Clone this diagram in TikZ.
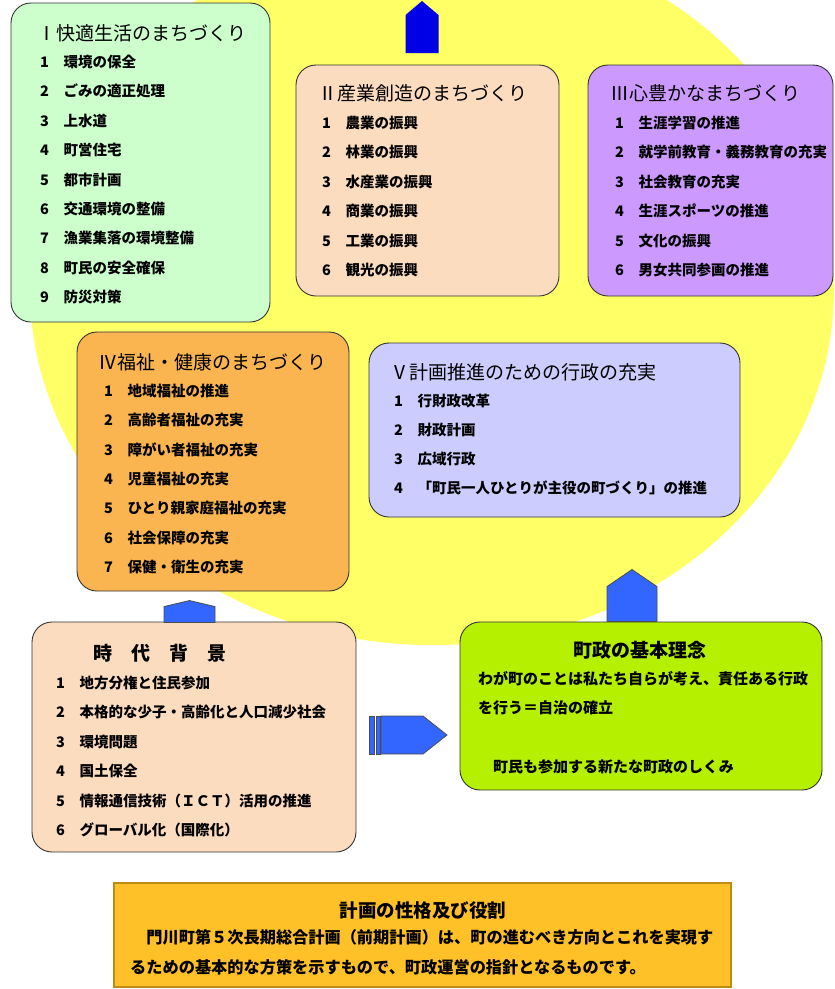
\documentclass[tikz,border=0pt]{standalone}
\usepackage{fontspec}
\setmainfont{Noto Sans CJK JP}

\definecolor{kiiro}{RGB}{255,255,102}
\definecolor{midori}{RGB}{204,255,204}
\definecolor{momo}{RGB}{252,220,190}
\definecolor{murasaki}{RGB}{204,153,255}
\definecolor{daidai}{RGB}{250,180,80}
\definecolor{fuji}{RGB}{204,204,255}
\definecolor{kimidori}{RGB}{180,240,0}
\definecolor{yamabuki}{RGB}{255,192,40}
\definecolor{waku}{RGB}{190,140,20}
\definecolor{ao}{RGB}{0,0,230}
\definecolor{ruri}{RGB}{51,102,255}

\begin{document}
\begin{tikzpicture}[x=1pt,y=-1pt]
\tikzstyle{box}=[draw=black!80, line width=0.9pt, rounded corners=20pt, inner sep=0pt]
\tikzstyle{ttl}=[anchor=west, inner sep=0pt, text height=16.7pt, text depth=2.3pt, font=\fontsize{19}{22}\selectfont]
\tikzstyle{itm}=[anchor=west, inner sep=0pt, text height=12.8pt, text depth=1.7pt, font=\fontsize{14.5}{17}\selectfont\bfseries]
\tikzstyle{blk}=[fill=ruri, draw=black!70, line width=0.8pt]

\clip (0,0) rectangle (835,989);
\fill[kiiro] (432,289) ellipse [x radius=402, y radius=356];

% blue arrows
\coordinate (ue) at (422,53);
\fill[ao] (ue) ++(-16.5,0) -- ++(0,-38) -- ++(16.5,-14) -- ++(16.5,14) -- ++(0,38) -- cycle;

  \node[box, fill=midori, minimum width=259, minimum height=319] (kaiteki) at (140.5,162.5) {};
  \node[box, fill=momo, minimum width=263, minimum height=231] (sangyo) at (427.5,180.5) {};
  \node[box, fill=murasaki, minimum width=245, minimum height=231] (kokoro) at (710.5,180.5) {};
  \node[box, fill=daidai, minimum width=272, minimum height=259] (fukushi) at (213,461.5) {};
  \node[box, fill=fuji, minimum width=371, minimum height=174] (gyosei) at (554.5,430) {};

  \node[box, fill=momo, minimum width=324, minimum height=230] (haikei) at (194,737) {};
  \node[box, fill=kimidori, minimum width=362, minimum height=168] (rinen) at (641,706) {};
  \node[draw=waku, line width=2.5pt, fill=yamabuki, minimum width=617, minimum height=104] (yakuwari) at (422.5,935) {};

\draw[blk] ([xshift=-4.5]haikei.north) ++(-25.5,1) -- ++(0,-16) -- ++(25.5,-6) -- ++(25.5,6) -- ++(0,16) -- cycle;
\draw[blk] ([xshift=-9]rinen.north) ++(-25,0) -- ++(0,-35) -- ++(25,-17) -- ++(25,17) -- ++(0,35) -- cycle;
\draw[blk] (369,716) rectangle (374,754);
\draw[blk] (376,716) rectangle (380,754);
\draw[blk] (381,716) -- (423,716) -- (447,735) -- (423,754) -- (381,754) -- cycle;

% I
\node[ttl] (kaiteki-t) at (37,33) {Ⅰ快適生活のまちづくり};
\foreach \t [count=\i] in {環境の保全, ごみの適正処理, 上水道, 町営住宅, 都市計画, 交通環境の整備, 漁業集落の環境整備, 町民の安全確保, 防災対策}
\node[itm] (kaiteki-\i) at (40,{62+29.4*(\i-1)}) {\i　\t};

% II
\node[ttl] (sangyo-t) at (318,93) {Ⅱ産業創造のまちづくり};
\foreach \t [count=\i] in {農業の振興, 林業の振興, 水産業の振興, 商業の振興, 工業の振興, 観光の振興}
\node[itm] (sangyo-\i) at (322,{123+29.4*(\i-1)}) {\i　\t};

% III
\node[ttl] (kokoro-t) at (610,93) {Ⅲ心豊かなまちづくり};
\foreach \t [count=\i] in {生涯学習の推進, 就学前教育・義務教育の充実, 社会教育の充実, 生涯スポーツの推進, 文化の振興, 男女共同参画の推進}
\node[itm] (kokoro-\i) at (615,{123+29.4*(\i-1)}) {\i　\t};

% IV
\node[ttl] (fukushi-t) at (98,362) {Ⅳ福祉・健康のまちづくり};
\foreach \t [count=\i] in {地域福祉の推進, 高齢者福祉の充実, 障がい者福祉の充実, 児童福祉の充実, ひとり親家庭福祉の充実, 社会保障の充実, 保健・衛生の充実}
\node[itm] (fukushi-\i) at (104,{391+29.3*(\i-1)}) {\i　\t};

% V
\node[ttl] (gyosei-t) at (390,372) {Ⅴ計画推進のための行政の充実};
\foreach \t [count=\i] in {行財政改革, 財政計画, 広域行政, 「町民一人ひとりが主役の町づくり」の推進}
\node[itm] (gyosei-\i) at (394,{401+29*(\i-1)}) {\i　\t};

% jidai haikei
\node[ttl, anchor=center, font=\fontsize{19}{22}\selectfont\bfseries] (haikei-t) at (160,653) {時　代　背　景};
\foreach \t [count=\i] in {地方分権と住民参加, 本格的な少子・高齢化と人口減少社会, 環境問題, 国土保全, 情報通信技術（ＩＣＴ）活用の推進, グローバル化（国際化）}
\node[itm] (haikei-\i) at (56,{683+29.4*(\i-1)}) {\i　\t};

% kihon rinen
\node[ttl, anchor=center, font=\fontsize{19}{22}\selectfont\bfseries] (rinen-t) at (640,650) {町政の基本理念};
\node[itm, font=\fontsize{15}{18}\selectfont\bfseries] (rinen-1) at (478,679) {わが町のことは私たち自らが考え、責任ある行政};
\node[itm, font=\fontsize{15}{18}\selectfont\bfseries] (rinen-2) at (478,708) {を行う＝自治の確立};
\node[itm, font=\fontsize{15}{18}\selectfont\bfseries] (rinen-3) at (493,767) {町民も参加する新たな町政のしくみ};

% seikaku
\node[ttl, anchor=center, font=\fontsize{18.5}{22}\selectfont\bfseries] (yakuwari-t) at (423,910) {計画の性格及び役割};
\node[itm, font=\fontsize{16.2}{19}\selectfont\bfseries] (yakuwari-1) at (130,938) {　門川町第５次長期総合計画（前期計画）は、町の進むべき方向とこれを実現す};
\node[itm, font=\fontsize{16.2}{19}\selectfont\bfseries] (yakuwari-2) at (130,968) {るための基本的な方策を示すもので、町政運営の指針となるものです。};

\end{tikzpicture}
\end{document}
